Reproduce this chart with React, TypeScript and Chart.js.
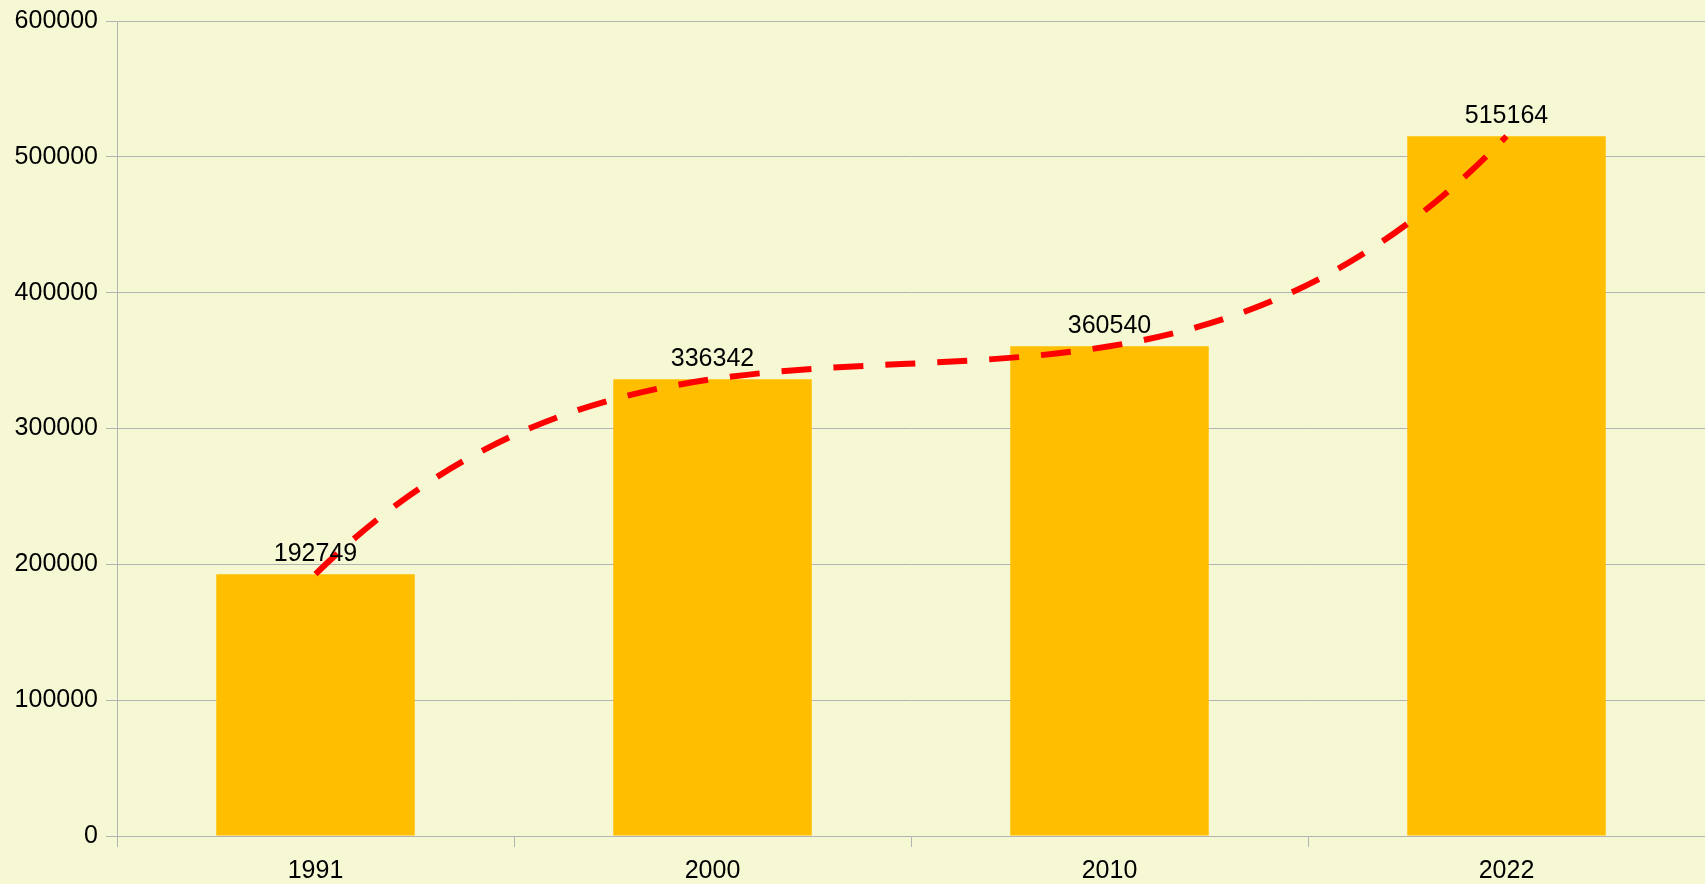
import React, { useEffect, useRef } from "react";
import { Chart, registerables } from "chart.js";

Chart.register(...registerables);

const categories = ["1991", "2000", "2010", "2022"];
const populationValues = [192749, 336342, 360540, 515164];
const yTickValues = [0, 100000, 200000, 300000, 400000, 500000, 600000];

const BG = "#F6F8D4";
const FONT = "'Liberation Sans', Arial, sans-serif";

// derivative of the polynomial trend line (degree n-1 through all points) at node k
function polyDerivativeAt(ys: number[], k: number): number {
  const n = ys.length;
  let d = 0;
  for (let j = 0; j < n; j++) {
    let lj = 0;
    if (j === k) {
      for (let m = 0; m < n; m++) if (m !== k) lj += 1 / (k - m);
    } else {
      lj = 1 / (j - k);
      for (let m = 0; m < n; m++) {
        if (m !== j && m !== k) lj *= (k - m) / (j - m);
      }
    }
    d += ys[j] * lj;
  }
  return d;
}

const trendCurvePlugin = {
  id: "trendCurve",
  beforeDatasetDraw(chart: any, args: any) {
    if (args.index !== 0) return;
    const meta = chart.getDatasetMeta(0);
    const line = meta.dataset;
    if (line && line.updateControlPoints) line.updateControlPoints(chart.chartArea, "x");
    const xs = chart.scales.x;
    const ysc = chart.scales.y;
    const pts = meta.data;
    const n = populationValues.length;
    for (let i = 0; i < n; i++) {
      const p = pts[i];
      const d = polyDerivativeAt(populationValues, i);
      const step =
        i < n - 1
          ? xs.getPixelForValue(i + 1) - xs.getPixelForValue(i)
          : xs.getPixelForValue(i) - xs.getPixelForValue(i - 1);
      p.cp1x = p.x - step / 3;
      p.cp1y = ysc.getPixelForValue(populationValues[i] - d / 3);
      p.cp2x = p.x + step / 3;
      p.cp2y = ysc.getPixelForValue(populationValues[i] + d / 3);
    }
    if (line) line._path = undefined;
  },
};

const valueLabelPlugin = {
  id: "valueLabels",
  afterDatasetsDraw(chart: any) {
    const meta = chart.getDatasetMeta(1);
    const ctx = chart.ctx;
    ctx.save();
    ctx.font = `25px ${FONT}`;
    ctx.fillStyle = "#000000";
    ctx.textAlign = "center";
    ctx.textBaseline = "alphabetic";
    meta.data.forEach((bar: any, i: number) => {
      ctx.fillText(String(populationValues[i]), bar.x, bar.y - 13);
    });
    ctx.restore();
  },
};

const bgPlugin = {
  id: "bgFill",
  beforeDraw(chart: any) {
    const ctx = chart.ctx;
    ctx.save();
    ctx.fillStyle = BG;
    ctx.fillRect(0, 0, chart.width, chart.height);
    ctx.restore();
  },
};

export default function App() {
  const ref = useRef<HTMLCanvasElement | null>(null);
  useEffect(() => {
    if (!ref.current) return;
    const chart = new Chart(ref.current, {
      type: "bar",
      data: {
        labels: categories,
        datasets: [
          {
            type: "line",
            label: "trend",
            data: populationValues,
            borderColor: "#FF0000",
            borderWidth: 6,
            borderDash: [30, 22],
            borderCapStyle: "butt",
            pointRadius: 0,
            tension: 0.4,
            fill: false,
            order: 0,
          } as any,
          {
            type: "bar",
            label: "population",
            data: populationValues,
            backgroundColor: "#FFBF00",
            borderWidth: 0,
            categoryPercentage: 1,
            barPercentage: 0.5,
            order: 1,
          },
        ],
      },
      options: {
        responsive: false,
        animation: false,
        events: [],
        layout: { padding: { top: 21, right: 0, bottom: 0, left: 0 } },
        plugins: {
          legend: { display: false },
          tooltip: { enabled: false },
        },
        scales: {
          x: {
            offset: true,
            grid: {
              offset: true,
              drawOnChartArea: false,
              drawTicks: true,
              tickLength: 11,
              color: "#B3B3B3",
            },
            border: { color: "#B3B3B3", width: 1 },
            ticks: {
              color: "#000000",
              font: { family: FONT, size: 25 },
              padding: 9,
              maxRotation: 0,
            },
            afterFit(scale: any) {
              scale.height = 48;
              scale.paddingLeft = 0;
              scale.paddingRight = 0;
            },
          },
          y: {
            min: 0,
            max: 600000,
            afterBuildTicks(scale: any) {
              scale.ticks = yTickValues.map((v) => ({ value: v }));
            },
            grid: {
              color: "#B3B3B3",
              tickLength: 11,
              drawTicks: true,
            },
            border: { color: "#B3B3B3", width: 1 },
            ticks: {
              color: "#000000",
              font: { family: FONT, size: 25 },
              padding: 8,
              callback: (v: any) => String(v),
            },
            afterFit(scale: any) {
              scale.width = 117;
              scale.paddingTop = 0;
              scale.paddingBottom = 0;
            },
          },
        },
      },
      plugins: [bgPlugin, trendCurvePlugin, valueLabelPlugin],
    });
    return () => chart.destroy();
  }, []);

  return (
    <div
      style={{
        position: "fixed",
        left: 0,
        top: 0,
        width: 1705,
        height: 884,
        background: BG,
      }}
    >
      <canvas ref={ref} width={1705} height={884} style={{ width: 1705, height: 884, display: "block" }} />
    </div>
  );
}
